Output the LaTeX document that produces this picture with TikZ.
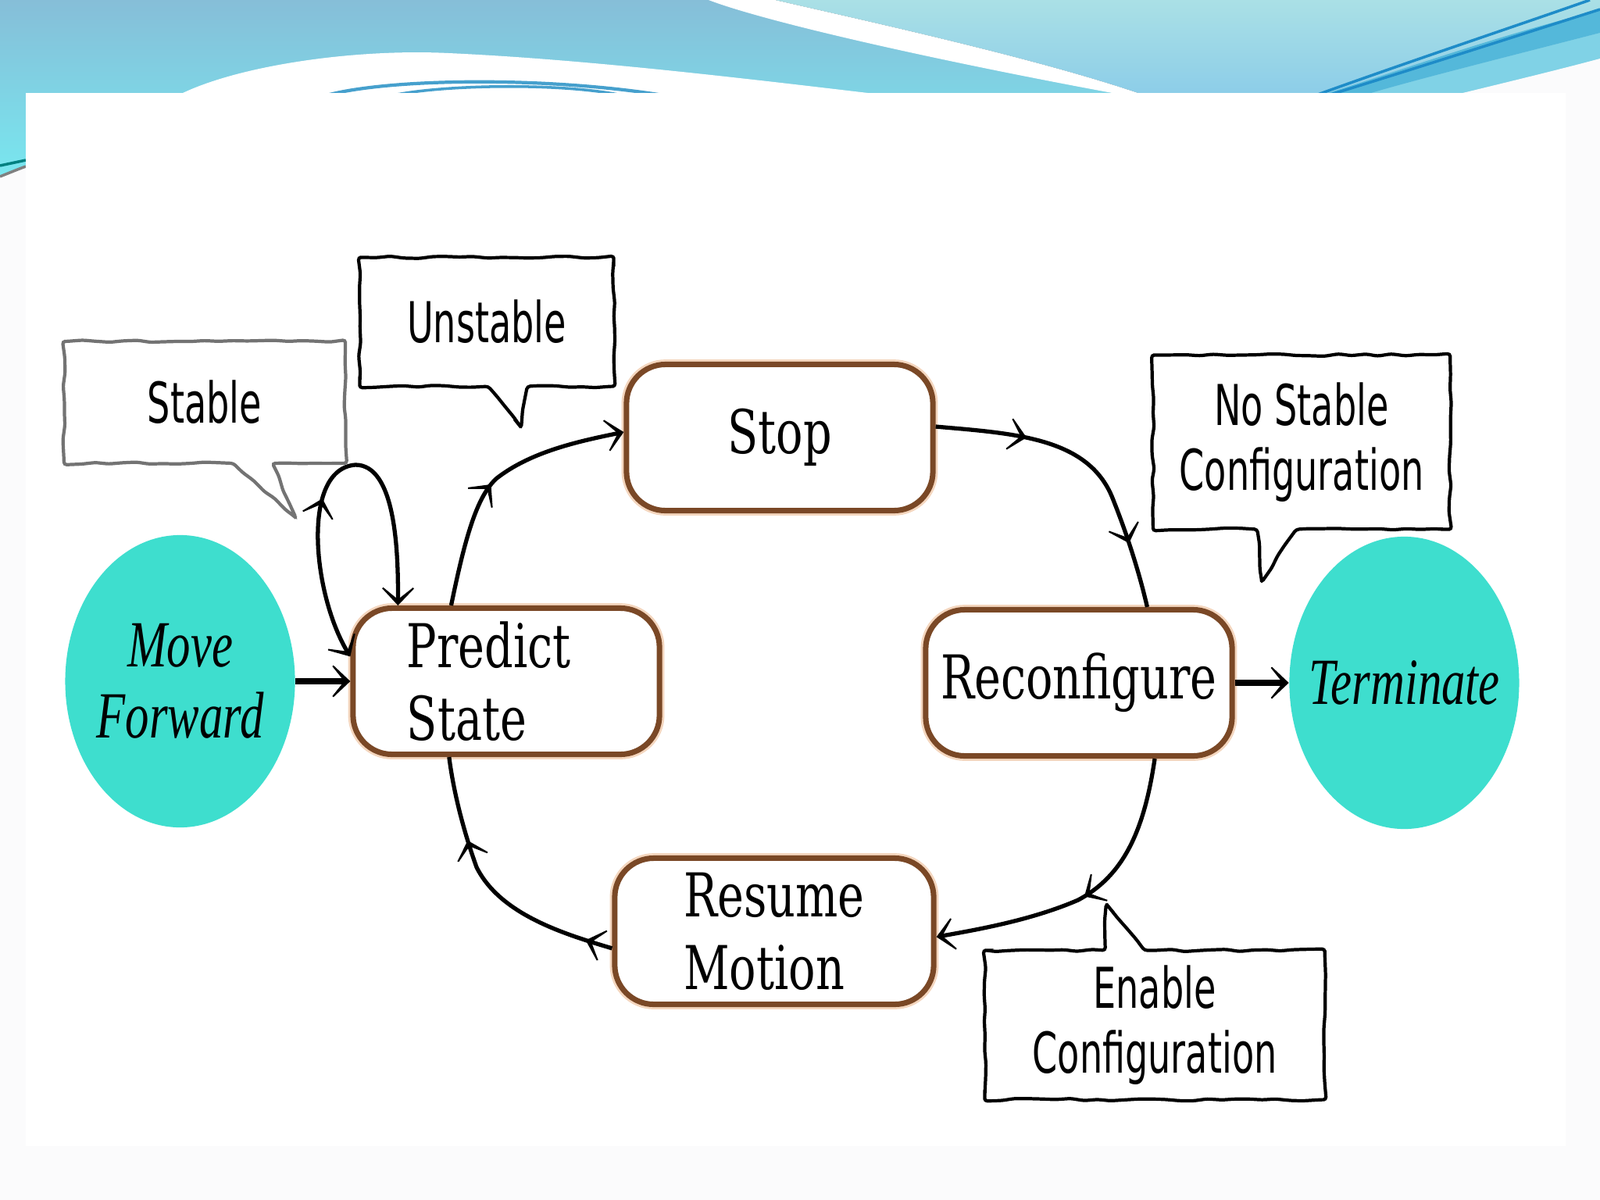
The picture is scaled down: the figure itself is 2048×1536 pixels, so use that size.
\documentclass[tikz,border=0pt]{standalone}
\usepackage{fontspec}
\usepackage{xcolor}
\usetikzlibrary{shapes.geometric,shapes.callouts,arrows.meta,positioning,decorations.pathmorphing,decorations.markings}
\newfontfamily\statefont[FakeStretch=0.74]{DejaVu Serif}
\newfontfamily\notefont[FakeStretch=0.64]{DejaVu Sans}
\newfontfamily\endfont[FakeStretch=0.72]{Liberation Serif}
\definecolor{bannertop}{RGB}{134,190,216}
\definecolor{bannerbot}{RGB}{120,232,240}
\definecolor{paneltop}{RGB}{170,224,230}
\definecolor{panelbot}{RGB}{140,205,232}
\definecolor{bandblue}{RGB}{84,184,218}
\definecolor{bandlight}{RGB}{128,210,230}
\definecolor{streak}{RGB}{30,140,200}
\definecolor{arcblue}{RGB}{70,160,205}
\definecolor{stateline}{RGB}{122,72,38}
\definecolor{stateglow}{RGB}{244,214,190}
\definecolor{endfill}{RGB}{62,222,206}
\definecolor{slidebg}{RGB}{251,251,252}

\begin{document}
\begin{tikzpicture}[
    x=0.01cm, y=-0.01cm,
    barb/.tip={Stealth[length=9pt, width=17pt, inset=6.8pt]},
    state/.style={rectangle, rounded corners=0.5cm, draw=stateline, line width=2pt, fill=white, preaction={draw=stateglow, line width=3.6pt}, minimum width=3.92cm, minimum height=1.87cm, align=left, font={\statefont\fontsize{22}{26.5}\selectfont}},
    endpoint/.style={ellipse, fill=endfill, minimum width=2.94cm, minimum height=3.74cm, inner sep=0pt, align=center, font={\endfont\itshape\fontsize{24}{26}\selectfont}},
    bubble/.style={rectangle callout, draw=black, fill=white, line width=1.2pt, inner sep=0pt, callout pointer width=0.5cm, rounded corners=1pt, decorate, decoration={random steps, segment length=5pt, amplitude=0.45pt}, align=center, font={\notefont\fontsize{20.5}{23.5}\selectfont}},
    flow/.style={line width=1.5pt, black},
    bigarrow/.style={-barb, line width=2.2pt, black},
    tipat/.style={postaction={decorate, decoration={markings, mark=at position #1 with {\arrow{barb}}}}}
]
\useasboundingbox (0,0) rectangle (2048,1536);

% Slide background
\fill[slidebg] (0,0) rectangle (2048,1536);
\fill[top color=bannertop, bottom color=bannerbot] (0,0) rectangle (2048,232);
\fill[top color=paneltop, bottom color=panelbot] (992,0) .. controls (1100,25) and (1330,75) .. (1465,122) -- (2048,122) -- (2048,0) -- cycle;
\fill[white] (907,0) .. controls (980,28) and (1200,78) .. (1440,122) -- (1465,122) .. controls (1330,75) and (1100,25) .. (992,0) -- cycle;
\fill[white] (228,122) .. controls (300,85) and (450,62) .. (574,68) .. controls (750,76) and (950,100) .. (1136,122) -- cycle;
\draw[arcblue, line width=1.2pt] (418,122) .. controls (500,100) and (700,98) .. (849,122);
\draw[arcblue, line width=1pt] (503,122) .. controls (570,108) and (720,106) .. (796,122);
\fill[bandlight] (1745,122) .. controls (1800,105) and (1920,75) .. (2048,42) -- (2048,75) .. controls (2000,88) and (1930,105) .. (1860,122) -- cycle;
\fill[bandblue] (1690,122) .. controls (1780,95) and (1900,50) .. (2048,13) -- (2048,42) .. controls (1920,75) and (1800,105) .. (1745,122) -- cycle;
\draw[streak, line width=1pt] (1684,122) .. controls (1800,80) and (1950,30) .. (2035,0);
\draw[streak, line width=1pt] (1700,122) .. controls (1820,85) and (1960,40) .. (2048,12);
\fill[slidebg] (1860,122) .. controls (1930,105) and (2000,88) .. (2048,75) -- (2070,70) -- (2070,260) -- (1860,260) -- cycle;
\fill[slidebg] (0,226) .. controls (10,222) and (22,217) .. (33,213) -- (33,1536) -- (0,1536) -- cycle;
\draw[teal, line width=1pt] (0,212) -- (33,205);
\draw[gray, line width=1pt] (0,226) .. controls (10,222) and (22,217) .. (33,213);
\fill[white] (33,119) rectangle (2004,1467);

% States
\node[state] (stop) at (998,560) {Stop};
\node[state, text width=2.54cm] (predict) at (648,872) {Predict\\State};
\node[state] (reconf) at (1381,874) {Reconfigure};
\node[state, minimum width=4.08cm] (resume) at (991,1192) {Resume\\Motion};

% Start and end
\node[endpoint, left=0.7cm of predict] (move) {\makebox[2cm]{Move}\\\makebox[2cm]{Forward}};
\node[endpoint, right=0.69cm of reconf] (term) {\makebox[2cm]{Terminate}};

% Notes
\node[bubble, draw=black!55, minimum width=3.6cm, minimum height=1.56cm, callout absolute pointer={(379,663)}] (stable) at (262,515) {Stable};
\node[bubble, minimum width=3.25cm, minimum height=1.65cm, callout absolute pointer={(667,547)}] (unstable) at (623,412) {Unstable};
\node[bubble, minimum width=3.8cm, minimum height=2.23cm, callout absolute pointer={(1615,745)}] (nostable) at (1666,566) {No Stable\\Configuration};
\node[bubble, minimum width=4.35cm, minimum height=1.91cm, callout absolute pointer={(1416,1157)}] (enable) at (1478,1312) {Enable\\Configuration};

% Arrows
\draw[bigarrow] (move) -- (predict);
\draw[bigarrow] (reconf) -- (term);
\draw[flow, barb-barb, tipat=0.44] (predict.171) .. controls (400,760) and (385,600) .. (455,595) .. controls (505,595) and (510,700) .. (predict.145);
\draw[flow, -barb, tipat=0.47] (predict.126) .. controls (595,690) and (610,635) .. (636,612) .. controls (680,578) and (740,565) .. (stop.178);
\draw[flow, tipat=0.29, tipat=0.79] (stop.4) .. controls (1300,555) and (1395,560) .. (1425,640) .. controls (1445,690) and (1460,740) .. (reconf.48);
\draw[flow, -barb, tipat=0.51] (reconf.-45) .. controls (1465,1060) and (1440,1120) .. (1380,1152) .. controls (1320,1178) and (1250,1190) .. (resume.-2);
\draw[flow, tipat=0.1, tipat=0.69] (resume.186) .. controls (720,1195) and (640,1170) .. (610,1110) .. controls (592,1060) and (580,1010) .. (predict.233);

\end{tikzpicture}
\end{document}
